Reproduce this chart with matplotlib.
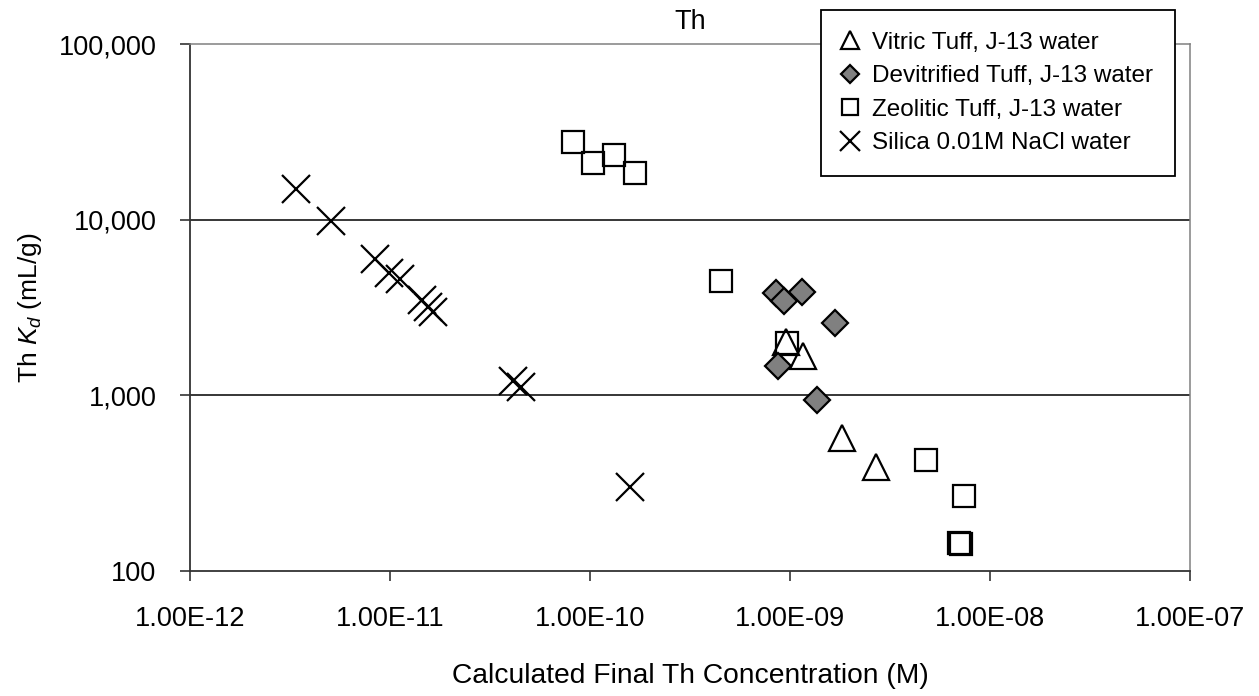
import matplotlib
matplotlib.use("Agg")
import matplotlib.pyplot as plt
from matplotlib.ticker import FixedLocator, FuncFormatter, NullLocator

plt.rcParams['font.family'] = ['Liberation Sans', 'DejaVu Sans']
plt.rcParams['mathtext.fontset'] = 'custom'
plt.rcParams['mathtext.rm'] = 'Liberation Sans'
plt.rcParams['mathtext.it'] = 'Liberation Sans:italic'

# Th sorption data: final concentration (M) vs. Kd (mL/g)
vitric_conc = [9.55e-10, 1.16e-9, 1.83e-9, 2.69e-9]
vitric_kd = [2000, 1670, 570, 393]

devit_conc = [8.48e-10, 9.37e-10, 1.15e-9, 1.68e-9, 8.74e-10, 1.36e-9]
devit_kd = [3810, 3440, 3870, 2590, 1460, 940]

zeolitic_conc = [8.2e-11, 1.04e-10, 1.32e-10, 1.67e-10, 4.54e-10, 9.7e-10,
                 4.77e-9, 7.41e-9, 7.03e-9, 7.2e-9]
zeolitic_kd = [27700, 21100, 23400, 18500, 4500, 1980, 428, 267, 144, 142]

silica_conc = [3.38e-12, 5.07e-12, 8.41e-12, 9.89e-12, 1.126e-11, 1.44e-11,
               1.554e-11, 1.646e-11, 4.12e-11, 4.5e-11, 1.58e-10]
silica_kd = [14900, 9860, 6000, 5000, 4580, 3480, 3200, 2990, 1200, 1110, 300]

series_labels = ["Vitric Tuff, J-13 water", "Devitrified Tuff, J-13 water",
                 "Zeolitic Tuff, J-13 water", "Silica 0.01M NaCl water"]

x_ticks = [1e-12, 1e-11, 1e-10, 1e-9, 1e-8, 1e-7]
y_ticks = [100, 1000, 10000, 100000]

W, H = 1259, 696
fig = plt.figure(figsize=(W / 100, H / 100), dpi=100)
ax = fig.add_axes([190 / W, 1 - 571 / H, 1000 / W, 527 / H])

mew = 1.6
h_zeo, = ax.plot(zeolitic_conc, zeolitic_kd, ls='none', marker='s', ms=16.5,
                 mfc='none', mec='black', mew=mew, zorder=3)
h_vit, = ax.plot(vitric_conc, vitric_kd, ls='none', marker='^', ms=19,
                 mfc='none', mec='black', mew=mew, zorder=3)
h_dev, = ax.plot(devit_conc, devit_kd, ls='none', marker='D', ms=13,
                 mfc='#808080', mec='black', mew=mew, zorder=4)
h_sil, = ax.plot(silica_conc, silica_kd, ls='none', marker='x', ms=20,
                 mec='black', mew=mew, zorder=3)

ax.set_xscale('log')
ax.set_yscale('log')
ax.set_xlim(1e-12, 1e-7)
ax.set_ylim(100, 100000)

ax.xaxis.set_major_locator(FixedLocator(x_ticks))
ax.yaxis.set_major_locator(FixedLocator(y_ticks))
ax.xaxis.set_minor_locator(NullLocator())
ax.yaxis.set_minor_locator(NullLocator())
ax.xaxis.set_major_formatter(FuncFormatter(lambda v, p: f"{v:.2E}"))
ax.yaxis.set_major_formatter(FuncFormatter(lambda v, p: f"{int(round(v)):,}"))

ax.tick_params(axis='both', which='major', direction='out', length=7.2,
               width=1.2, labelsize=19.5, color='#333333')
ax.tick_params(axis='y', pad=17)
ax.tick_params(axis='x', pad=18)

for y in [1000, 10000]:
    ax.axhline(y, color='black', lw=1.1, zorder=1)

for side in ['left', 'bottom']:
    ax.spines[side].set_color('#333333')
    ax.spines[side].set_linewidth(1.3)
for side in ['top', 'right']:
    ax.spines[side].set_color('#808080')
    ax.spines[side].set_linewidth(1.1)

ax.set_title("Th", fontsize=19.5, pad=11)
ax.set_xlabel("Calculated Final Th Concentration (M)", fontsize=20.3)
ax.xaxis.set_label_coords(0.5, (571 - 663) / 527)
ax.set_ylabel(r"Th $K_d$ (mL/g)", fontsize=19)
ax.yaxis.set_label_coords((44 - 190) / 1000, 0.5)

leg = fig.legend([h_vit, h_dev, h_zeo, h_sil], series_labels,
                 loc='upper right', bbox_to_anchor=(1175 / W, 1 - 10 / H),
                 bbox_transform=fig.transFigure, borderaxespad=0,
                 fontsize=17.5, markerscale=0.7, handlelength=0.6,
                 handletextpad=0.62, labelspacing=0.47, borderpad=0.9,
                 fancybox=False, framealpha=1, edgecolor='black')
leg.get_frame().set_linewidth(1.3)

fig.savefig("out.png", dpi=100)
